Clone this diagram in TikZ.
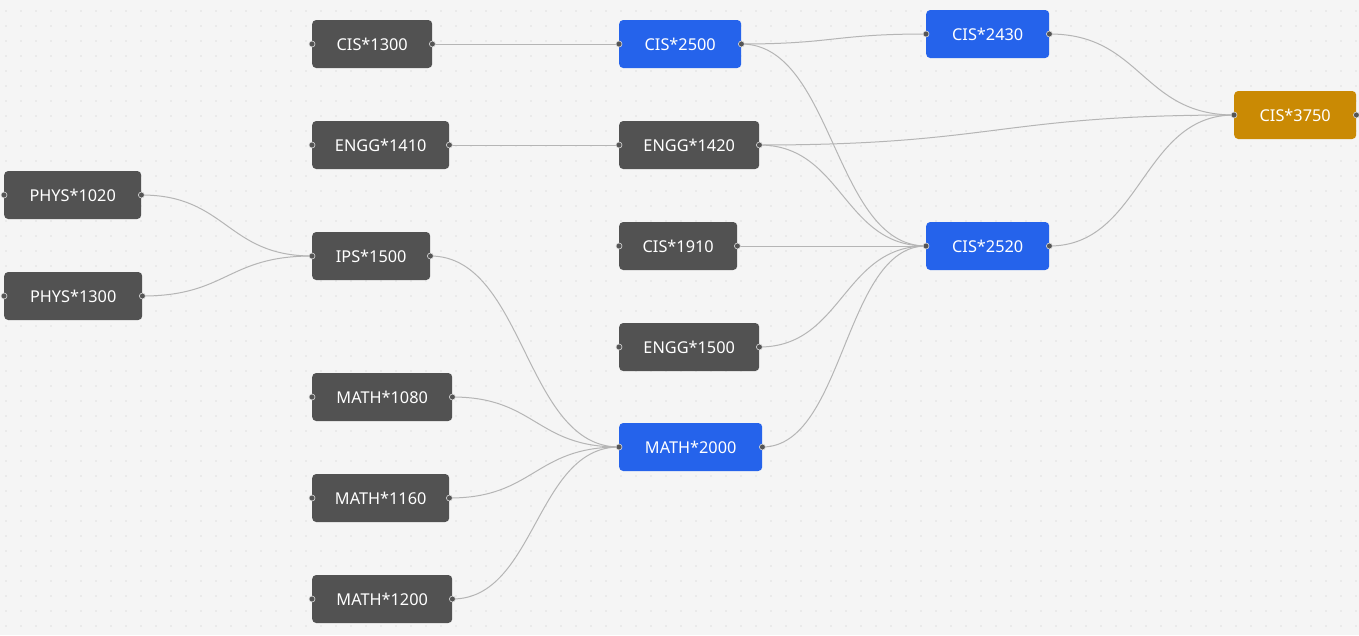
\documentclass[tikz,border=0pt]{standalone}
\usepackage{fontspec}
\setmainfont{Noto Sans}
\usetikzlibrary{calc}

\definecolor{canvas}{HTML}{F5F5F5}
\definecolor{griddot}{HTML}{C8C8C8}
\definecolor{course}{HTML}{525252}
\definecolor{core}{HTML}{2563EB}
\definecolor{goal}{HTML}{CA8A04}
\definecolor{wire}{HTML}{B5B5B5}
\definecolor{handle}{HTML}{555555}

\tikzset{
  course/.style={fill=course, text=white, rounded corners=4pt, minimum height=48pt,
    inner xsep=12pt, anchor=west, font=\fontsize{16.3}{19}\selectfont},
  core/.style={course, fill=core},
  goal/.style={course, fill=goal},
  link/.style={draw=wire, line width=1pt},
  handle/.style={fill=handle, draw=white!80!handle, line width=0.6pt}
}

\begin{document}
\begin{tikzpicture}[x=1pt, y=-1pt, line join=round]

  % canvas and dot grid
  \fill[canvas] (0,0) rectangle (1359,635);
  \useasboundingbox (0,0) rectangle (1359,635);
  \foreach \gx in {6,21,...,1356}
    \foreach \gy in {11,26,...,631}
      \fill[griddot] (\gx,\gy) circle (0.7pt);

  % column 1
  \node[course, minimum width=137pt] (phys1020) at (4,195) {PHYS*1020};
  \node[course, minimum width=138pt] (phys1300) at (4,296) {PHYS*1300};

  % column 2
  \node[course, minimum width=120pt] (cis1300)  at (312,44)  {CIS*1300};
  \node[course, minimum width=137pt] (engg1410) at (312,145) {ENGG*1410};
  \node[course, minimum width=118pt] (ips1500)  at (312,256) {IPS*1500};
  \node[course, minimum width=140pt] (math1080) at (312,397) {MATH*1080};
  \node[course, minimum width=137pt] (math1160) at (312,498) {MATH*1160};
  \node[course, minimum width=140pt] (math1200) at (312,599) {MATH*1200};

  % column 3
  \node[core,   minimum width=122pt] (cis2500)  at (619,44)  {CIS*2500};
  \node[course, minimum width=140pt] (engg1420) at (619,145) {ENGG*1420};
  \node[course, minimum width=118pt] (cis1910)  at (619,246) {CIS*1910};
  \node[course, minimum width=140pt] (engg1500) at (619,347) {ENGG*1500};
  \node[core,   minimum width=143pt] (math2000) at (619,447) {MATH*2000};

  % column 4 and goal
  \node[core, minimum width=123pt] (cis2430) at (926,34)  {CIS*2430};
  \node[core, minimum width=123pt] (cis2520) at (926,246) {CIS*2520};
  \node[goal, minimum width=122pt] (cis3750) at (1234,115) {CIS*3750};

  % prerequisite links
  \foreach \s/\t in {phys1020/ips1500, phys1300/ips1500, cis1300/cis2500,
      engg1410/engg1420, ips1500/math2000, math1080/math2000, math1160/math2000,
      math1200/math2000, cis2500/cis2430, cis2500/cis2520, engg1420/cis3750,
      engg1420/cis2520, cis1910/cis2520, engg1500/cis2520, math2000/cis2520,
      cis2430/cis3750, cis2520/cis3750}
    \draw[link] let \p1=(\s.east), \p2=(\t.west) in
      (\p1) .. controls ({(\x1+\x2)/2},\y1) and ({(\x1+\x2)/2},\y2) .. (\p2);

  % handles
  \foreach \n in {phys1020, phys1300, cis1300, engg1410, ips1500, math1080,
      math1160, math1200, cis2500, engg1420, cis1910, engg1500, math2000,
      cis2430, cis2520, cis3750}
  {
    \filldraw[handle] (\n.west) circle (3pt);
    \filldraw[handle] (\n.east) circle (3pt);
  }

\end{tikzpicture}
\end{document}
